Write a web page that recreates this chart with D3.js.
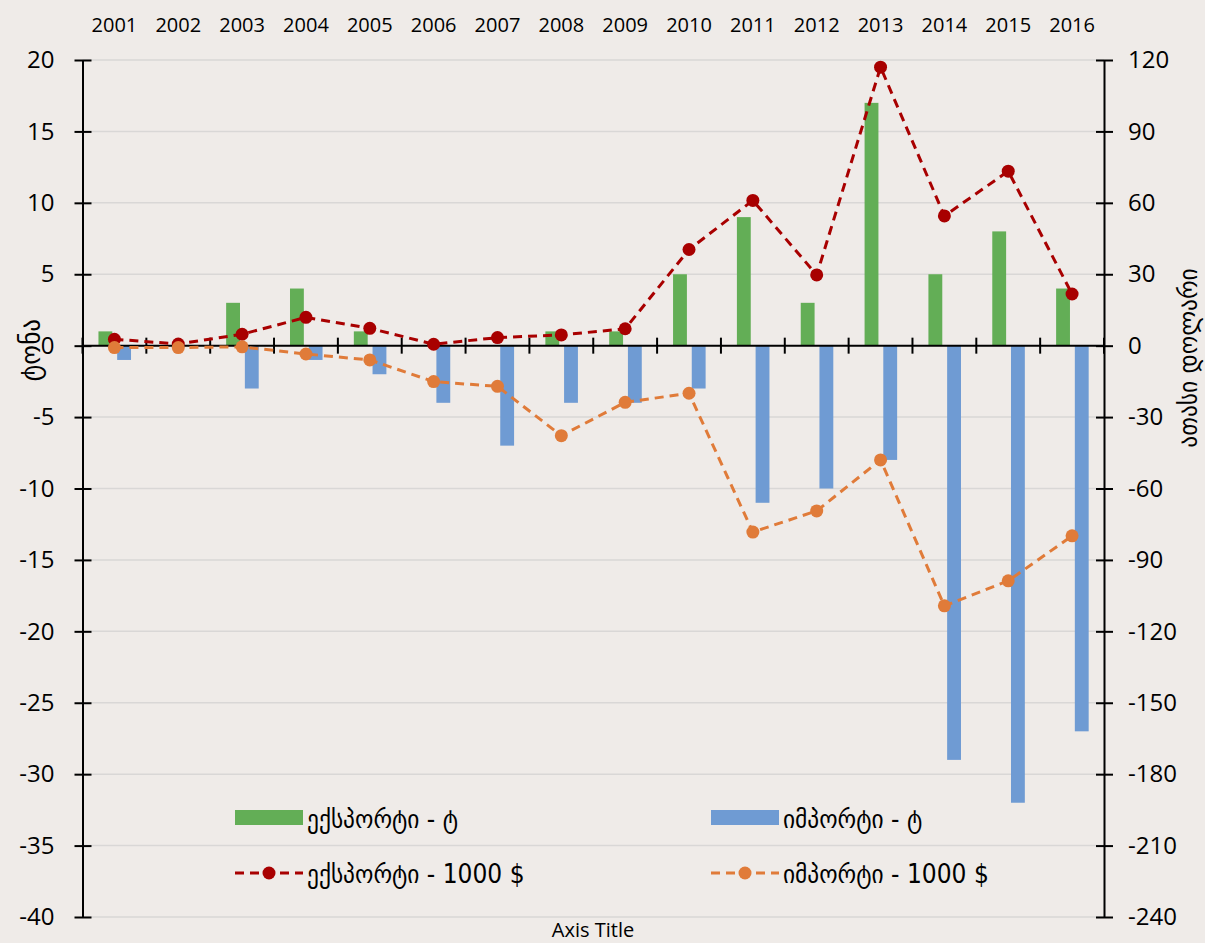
<!DOCTYPE html>
<html><head><meta charset="utf-8">
<script src="https://cdn.jsdelivr.net/npm/d3@7"></script>
<style>
html,body{margin:0;padding:0;background:#efebe8;}
svg{display:block;}
text{font-family:"Open Sans","DejaVu Sans Condensed",sans-serif;fill:#000;}
.geo{font-family:"DejaVu Sans Condensed","DejaVu Sans",sans-serif;}
</style></head><body>
<svg id="c" width="1205" height="943"></svg>
<script>
const years = ["2001","2002","2003","2004","2005","2006","2007","2008","2009","2010","2011","2012","2013","2014","2015","2016"];
const exportTons = [1,0,3,4,1,0,0,1,1,5,9,3,17,5,8,4];
const importTons = [-1,0,-3,-1,-2,-4,-7,-4,-4,-3,-11,-10,-8,-29,-32,-27];
const exportUsd = [2.7,0.7,4.8,11.9,7.3,0.6,3.4,4.5,7.1,40.4,61,29.7,117,54.5,73.3,21.7];
const importUsd = [-0.8,-0.8,-0.5,-3.5,-6,-15.1,-17.1,-37.8,-23.8,-20,-78.3,-69.4,-48,-109.3,-98.8,-79.9];
const leftTicks = [20,15,10,5,0,-5,-10,-15,-20,-25,-30,-35,-40];
const rightTicks = [120,90,60,30,0,-30,-60,-90,-120,-150,-180,-210,-240];
const seriesNames = ["ექსპორტი - ტ","იმპორტი - ტ","ექსპორტი - 1000 $","იმპორტი - 1000 $"];
const leftTitle = "ტონა", rightTitle = "ათასი დოლარი", bottomTitle = "Axis Title";

const cGreen="#63ae56", cBlue="#6f9bd3", cRed="#a80000", cOrange="#e07b39";
const svg = d3.select("#c");
const L=82.5, R=1104, T=60, B=917;
const x = d3.scaleBand().domain(years).range([L,R]);
const x1 = d3.scaleBand().domain(["e","i"]).range([x.bandwidth()*0.25, x.bandwidth()*0.76]).paddingInner(0.26);
const yL = d3.scaleLinear().domain([-40,20]).range([B,T]);
const yR = d3.scaleLinear().domain([-240,120]).range([B,T]);

// gridlines
svg.append("g").selectAll("line").data(leftTicks.filter(d=>d!==0)).join("line")
  .attr("x1",L).attr("x2",R).attr("y1",d=>yL(d)).attr("y2",d=>yL(d))
  .attr("stroke","#d9d7d6").attr("stroke-width",1.5);

// bars
const bars = svg.append("g");
bars.selectAll(".e").data(years.map((y,i)=>({y,v:exportTons[i]}))).join("rect")
  .attr("x",d=>x(d.y)+x1("e")).attr("width",x1.bandwidth())
  .attr("y",d=>yL(Math.max(0,d.v))).attr("height",d=>Math.abs(yL(d.v)-yL(0)))
  .attr("fill",cGreen);
bars.selectAll(".i").data(years.map((y,i)=>({y,v:importTons[i]}))).join("rect")
  .attr("x",d=>x(d.y)+x1("i")).attr("width",x1.bandwidth())
  .attr("y",d=>yL(Math.max(0,d.v))).attr("height",d=>Math.abs(yL(d.v)-yL(0)))
  .attr("fill",cBlue);

// zero axis with crossing ticks
const xAx = svg.append("g").attr("transform",`translate(0,${yL(0)})`);
xAx.append("line").attr("x1",L).attr("x2",R).attr("stroke","#000").attr("stroke-width",2);
const bounds = years.map(y=>x(y)).concat([R]);
xAx.selectAll(".t").data(bounds).join("line").attr("x1",d=>d).attr("x2",d=>d)
  .attr("y1",-8).attr("y2",8).attr("stroke","#000").attr("stroke-width",2);

// top category labels
svg.append("g").selectAll("text").data(years).join("text")
  .attr("x",d=>x(d)+x.bandwidth()/2).attr("y",32).attr("text-anchor","middle")
  .attr("font-size",20).text(d=>d);

// left axis
const la = svg.append("g").attr("transform",`translate(${L},0)`)
  .call(d3.axisLeft(yL).tickValues(leftTicks).tickSize(0).tickPadding(28).tickFormat(d=>d<0?"-"+Math.abs(d):d));
la.select(".domain").attr("stroke","#000").attr("stroke-width",2);
la.selectAll("text").attr("font-size",24).attr("font-family","Open Sans").attr("fill","#000");
la.selectAll(".tick").append("line").attr("x1",-8).attr("x2",9).attr("stroke","#000").attr("stroke-width",2);

// right axis
const ra = svg.append("g").attr("transform",`translate(${R},0)`)
  .call(d3.axisRight(yR).tickValues(rightTicks).tickSize(0).tickPadding(24).tickFormat(d=>d<0?"-"+Math.abs(d):d));
ra.select(".domain").attr("stroke","#000").attr("stroke-width",2);
ra.selectAll("text").attr("font-size",24).attr("font-family","Open Sans").attr("fill","#000");
ra.selectAll(".tick").append("line").attr("x1",-8).attr("x2",9).attr("stroke","#000").attr("stroke-width",2);

// lines
function drawLine(vals,color){
  const pts = years.map((y,i)=>[x(y)+x.bandwidth()/2, yR(vals[i])]);
  svg.append("path").attr("d",d3.line()(pts)).attr("fill","none").attr("stroke",color)
    .attr("stroke-width",3).attr("stroke-dasharray","9,6");
  svg.append("g").selectAll("circle").data(pts).join("circle")
    .attr("cx",d=>d[0]).attr("cy",d=>d[1]).attr("r",6.5).attr("fill",color);
}
drawLine(exportUsd,cRed);
drawLine(importUsd,cOrange);

// axis titles
svg.append("text").attr("class","geo").attr("transform","translate(40,350) rotate(-90)")
  .attr("text-anchor","middle").attr("font-size",28).text(leftTitle);
svg.append("text").attr("class","geo").attr("transform","translate(1197,358) rotate(-90)")
  .attr("text-anchor","middle").attr("font-size",26).text(rightTitle);
svg.append("text").attr("x",593).attr("y",937).attr("text-anchor","middle")
  .attr("font-size",20).text(bottomTitle);

// legend
const leg = [
  {n:seriesNames[0],c:cGreen,t:"bar",x:235,y:818},
  {n:seriesNames[1],c:cBlue,t:"bar",x:711,y:818},
  {n:seriesNames[2],c:cRed,t:"line",x:235,y:873},
  {n:seriesNames[3],c:cOrange,t:"line",x:711,y:873}
];
const lg = svg.append("g");
leg.forEach(d=>{
  if(d.t==="bar"){
    lg.append("rect").attr("x",d.x).attr("y",d.y-8).attr("width",68).attr("height",15).attr("fill",d.c);
  } else {
    lg.append("line").attr("x1",d.x).attr("x2",d.x+68).attr("y1",d.y).attr("y2",d.y)
      .attr("stroke",d.c).attr("stroke-width",3).attr("stroke-dasharray","9,6");
    lg.append("circle").attr("cx",d.x+34).attr("cy",d.y).attr("r",6.5).attr("fill",d.c);
  }
  lg.append("text").attr("class","geo").attr("x",d.x+72).attr("y",d.y+10).attr("font-size",26).text(d.n);
});
</script></body></html>
